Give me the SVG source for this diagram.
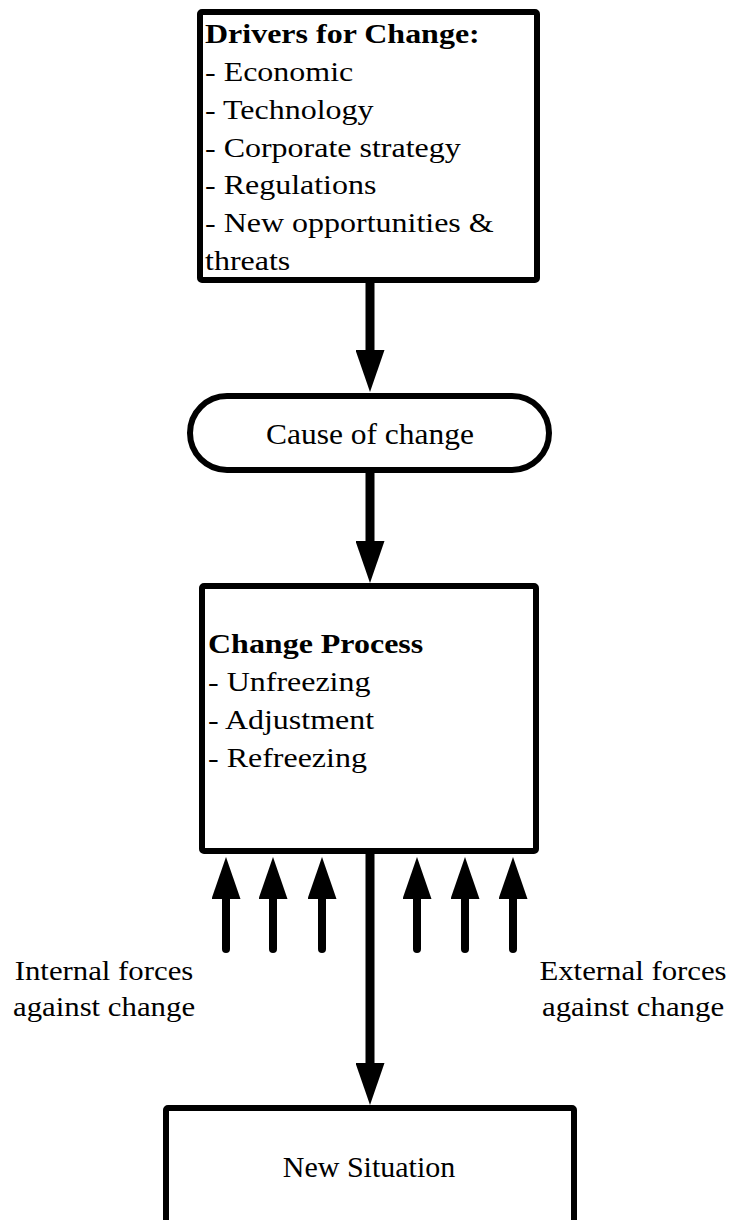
<svg xmlns="http://www.w3.org/2000/svg" width="731" height="1220" viewBox="0 0 731 1220">
  <style>
    .box { fill: #fff; stroke: #000; stroke-width: 6; stroke-linejoin: round; }
    .txt { font-family: "Liberation Serif", "Times New Roman", serif; font-size: 28px; fill: #000; }
    .big { font-size: 30px; }
    .bold { font-weight: bold; }
    .mid { text-anchor: middle; }
    .conn { stroke: #000; stroke-width: 9; stroke-linecap: round; fill: none; marker-end: url(#head); }
    .force { stroke-width: 8; }
  </style>
  <defs>
    <marker id="head" markerUnits="userSpaceOnUse" markerWidth="42" markerHeight="29" refX="22" refY="14.5" orient="auto">
      <path d="M0,0 L42,14.5 L0,29 z" fill="#000"/>
    </marker>
  </defs>

  <rect width="731" height="1220" fill="#fff"/>

  <!-- connectors -->
  <g id="connectors">
    <line class="conn" x1="370" y1="280" x2="370" y2="372"/>
    <line class="conn" x1="370" y1="470" x2="370" y2="563"/>
    <line class="conn" x1="370" y1="851" x2="370" y2="1085"/>
    <!-- forces pushing against the change process -->
    <line class="conn force" x1="226" y1="949" x2="226" y2="877"/>
    <line class="conn force" x1="273" y1="949" x2="273" y2="877"/>
    <line class="conn force" x1="322" y1="949" x2="322" y2="877"/>
    <line class="conn force" x1="417" y1="949" x2="417" y2="877"/>
    <line class="conn force" x1="465" y1="949" x2="465" y2="877"/>
    <line class="conn force" x1="513" y1="949" x2="513" y2="877"/>
  </g>

  <!-- drivers -->
  <g id="drivers">
    <rect class="box" x="200" y="12" width="337" height="268" rx="2"/>
    <g transform="translate(205,0) scale(1.143,1)">
      <text class="txt bold" x="0" y="43">Drivers for Change:</text>
      <text class="txt" x="0" y="81">- Economic</text>
      <text class="txt" x="0" y="119">- Technology</text>
      <text class="txt" x="0" y="157">- Corporate strategy</text>
      <text class="txt" x="0" y="194">- Regulations</text>
      <text class="txt" x="0" y="232">- New opportunities &amp;</text>
      <text class="txt" x="0" y="270">threats</text>
    </g>
  </g>

  <!-- cause -->
  <g id="cause">
    <rect class="box" x="190" y="396" width="359" height="74" rx="37"/>
    <text class="txt big mid" x="370" y="444" textLength="208" lengthAdjust="spacingAndGlyphs">Cause of change</text>
  </g>

  <!-- change process -->
  <g id="process">
    <rect class="box" x="202" y="586" width="334" height="265" rx="2"/>
    <g transform="translate(208,0) scale(1.143,1)">
      <text class="txt bold" x="0" y="653">Change Process</text>
      <text class="txt" x="0" y="691">- Unfreezing</text>
      <text class="txt" x="0" y="729">- Adjustment</text>
      <text class="txt" x="0" y="767">- Refreezing</text>
    </g>
  </g>

  <!-- force labels -->
  <g id="internal">
    <g transform="translate(104,0) scale(1.1,1)">
      <text class="txt mid" x="0" y="980">Internal forces</text>
      <text class="txt mid" x="0" y="1016">against change</text>
    </g>
  </g>
  <g id="external">
    <g transform="translate(633,0) scale(1.1,1)">
      <text class="txt mid" x="0" y="980">External forces</text>
      <text class="txt mid" x="0" y="1016">against change</text>
    </g>
  </g>

  <!-- outcome -->
  <g id="outcome">
    <rect class="box" x="166" y="1108" width="408" height="140" rx="2"/>
    <text class="txt big mid" x="369" y="1177">New Situation</text>
  </g>
</svg>
